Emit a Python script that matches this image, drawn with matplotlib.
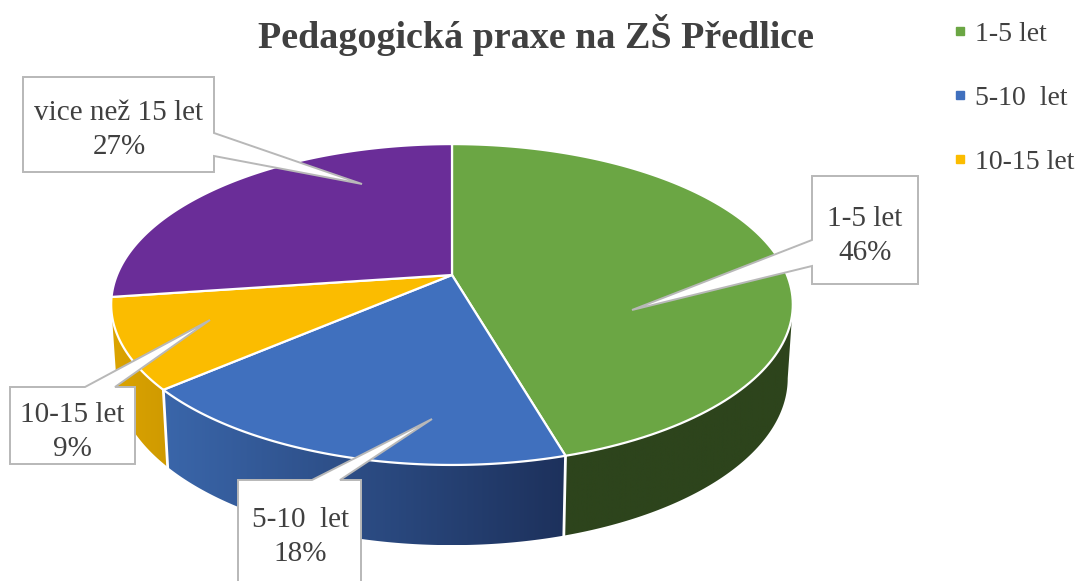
import numpy as np
import matplotlib
matplotlib.use("Agg")
import matplotlib.pyplot as plt
from matplotlib.colors import LinearSegmentedColormap
from matplotlib.lines import Line2D
from matplotlib.patches import Polygon

plt.rcParams['font.family'] = ['Liberation Serif', 'DejaVu Serif']

title = "Pedagogická praxe na ZŠ Předlice"
box_labels = ["1-5 let", "5-10  let", "10-15 let", "vice než 15 let"]
legend_labels = ["1-5 let", "5-10  let", "10-15 let"]
percent = [46, 18, 9, 27]
# slice sizes as drawn, a bit finer than the rounded labels
shares = [45.5, 18.2, 9.1, 27.2]

top_colors = ["#6ba644", "#4070be", "#fbbc00", "#6a2d98"]
side_left = ["#2d441c", "#3a66aa", "#dca400", "#4a2070"]
side_right = ["#2d441c", "#1d315c", "#cf9a00", "#4a2070"]
text_color = "#404040"

# perspective pie, in picture pixels
CX, CY = 452, 275
RX, RY = 335, 155
TILT = 0.184
DEPTH = 72.6
LOW_X, LOW_Y = 0.985, 1.04


def rim(frac, sx=1.0, sy=1.0, dy=0.0):
    th = np.pi / 2 - 2 * np.pi * frac
    d = 1 + TILT * np.sin(th)
    return CX + sx * RX * np.cos(th) / d, CY + dy - sy * RY * np.sin(th) / d


fig = plt.figure(figsize=(10.8, 5.81), dpi=100)
ax = fig.add_axes([0, 0, 1, 1])

edges = np.cumsum([0] + shares) / 100.0

# where the rim is widest, the side is only seen from here round the front
turn = np.degrees(np.arcsin(TILT)) / 360.0
side_from = 0.25 + turn
side_to = 0.75 - turn

for i in range(3):
    a = max(edges[i], side_from)
    b = min(edges[i + 1], side_to)
    f = np.linspace(a, b, 120)
    x1, y1 = rim(f)
    x2, y2 = rim(f, LOW_X, LOW_Y, DEPTH)
    xs = np.concatenate([x1, x2[::-1]])
    ys = np.concatenate([y1, y2[::-1]])
    poly = Polygon(np.column_stack([xs, ys]), closed=True, fc="none", ec="none")
    ax.add_patch(poly)
    cmap = LinearSegmentedColormap.from_list("s", [side_left[i], side_right[i]])
    grad = np.linspace(0, 1, 256).reshape(1, -1)
    im = ax.imshow(grad, cmap=cmap, aspect="auto", zorder=2,
                   extent=[xs.min(), xs.max(), ys.max(), ys.min()])
    im.set_clip_path(poly)
    # white divider at the slice end
    if i < 2:
        ax.plot([x1[-1], x2[-1]], [y1[-1], y2[-1]], color="white", lw=2, zorder=3)

# top of the pie
for i in range(4):
    f = np.linspace(edges[i], edges[i + 1], 120)
    x1, y1 = rim(f)
    xs = np.concatenate([[CX], x1])
    ys = np.concatenate([[CY], y1])
    ax.add_patch(Polygon(np.column_stack([xs, ys]), closed=True, fc=top_colors[i],
                         ec="white", lw=1.6, joinstyle="round", zorder=4))

# callouts: outline with the tail in it, then the text
callouts = [
    ([(812, 176), (918, 176), (918, 284), (812, 284), (812, 266), (632, 310), (812, 240)], (865, 236.5)),
    ([(238, 480), (312, 480), (432, 419), (340, 480), (361, 480), (361, 600), (238, 600)], (300, 537)),
    ([(10, 387), (85, 387), (210, 320), (115, 387), (135, 387), (135, 464), (10, 464)], (72, 432)),
    ([(23, 77), (214, 77), (214, 133), (362, 184), (214, 156), (214, 172), (23, 172)], (119, 129.5)),
]
for i, (pts, pos) in enumerate(callouts):
    ax.add_patch(Polygon(pts, closed=True, fc="white", ec="#b8b8b8", lw=1.4, zorder=5))
    ax.text(pos[0], pos[1], "%s\n%d%%" % (box_labels[i], percent[i]), ha="center", va="center",
            fontsize=21, color=text_color, linespacing=1.4, zorder=6)

ax.text(536.5, 35, title, ha="center", va="center", fontsize=27.4, fontweight="bold", color=text_color)

handles = [Line2D([], [], marker="s", ls="", ms=5.8, color=top_colors[i]) for i in range(3)]
ax.legend(handles, legend_labels, loc="upper left", bbox_to_anchor=(940 / 1080, 1 - 16 / 581), frameon=False,
          fontsize=20, labelcolor=text_color, labelspacing=1.38, handletextpad=0.0, handlelength=1.05,
          borderpad=0.2, borderaxespad=0)

ax.set_xlim(0, 1080)
ax.set_ylim(581, 0)
ax.axis("off")
fig.savefig("out.png", dpi=100, facecolor="white")
